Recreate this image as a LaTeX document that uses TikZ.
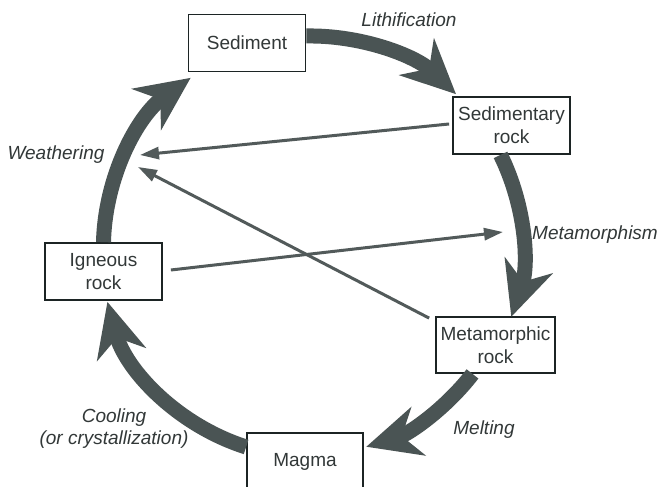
\documentclass[tikz,border=0pt]{standalone}
\usepackage{fontspec}
\setmainfont{Liberation Sans}
\usetikzlibrary{arrows.meta,calc}
\definecolor{bigc}{RGB}{74,84,84}
\definecolor{thinc}{RGB}{82,90,90}
\definecolor{txtc}{RGB}{50,56,56}
\definecolor{boxc}{RGB}{28,36,36}
\begin{document}
\begin{tikzpicture}[x=1pt,y=1pt,
  rockbox/.style={draw=boxc,line width=1.8pt,fill=white,inner sep=0pt,
    minimum width=117pt,minimum height=57pt,align=center,text=txtc,
    font=\fontsize{19}{23}\selectfont},
  proc/.style={text=txtc,align=center,font=\fontsize{19}{22}\selectfont\itshape},
  bigarrow/.style={draw=bigc,line width=15pt,
    -{Stealth[length=54pt,width=50pt,inset=17pt,fill=bigc]}},
  thinarrow/.style={draw=thinc,line width=3pt,
    -{Triangle[length=19pt,width=12pt,fill=thinc]}}]
\fill[white] (0,0) rectangle (659,487);
\useasboundingbox (0,0) rectangle (659,487);
% boxes
\node[rockbox] (sed)  at (247,444) {Sediment};
\node[rockbox] (sedr) at (511.5,361.5) {Sedimentary\\rock};
\node[rockbox,minimum width=119pt,minimum height=56pt] (metr) at (495.5,142) {Metamorphic\\rock};
\node[rockbox,minimum width=116pt,minimum height=58pt] (mag) at (305,25) {Magma};
\node[rockbox] (ign)  at (103.5,215.5) {Igneous\\rock};
% process labels
\node[proc] (lith) at (409,467) {Lithification};
\node[proc] (weat) at (56,332) {Weathering};
\node[proc] (meta) at (595,252) {Metamorphism};
\node[proc] (melt) at (484,57) {Melting};
\node[proc] (cool) at (114,58) {Cooling\\(or crystallization)};
% big cycle arrows
\draw[bigarrow] ([yshift=7pt]sed.east) arc[start angle=91,end angle=46.5,radius=212pt];
\draw[bigarrow] ([xshift=-11pt]sedr.south) arc[start angle=26.3,end angle=-18.7,radius=212pt];
\draw[bigarrow] ([xshift=-23pt]metr.south) arc[start angle=-37.6,end angle=-73.5,radius=209pt];
\draw[bigarrow] ([yshift=15pt]mag.west) arc[start angle=-107.6,end angle=-165,radius=209pt];
\draw[bigarrow] (ign.north) arc[start angle=178.6,end angle=125.5,radius=208pt];
% thin arrows
\coordinate (w1) at (140,332);
\coordinate (w2) at (138,320);
\coordinate (m1) at (503,255);
\draw[thinarrow] ([xshift=-3pt,yshift=1.5pt]sedr.west) -- (w1);
\draw[thinarrow] ([xshift=-6pt,yshift=-2pt]metr.north west) -- (w2);
\draw[thinarrow] ([xshift=8pt,yshift=1.5pt]ign.east) -- (m1);
\end{tikzpicture}
\end{document}
